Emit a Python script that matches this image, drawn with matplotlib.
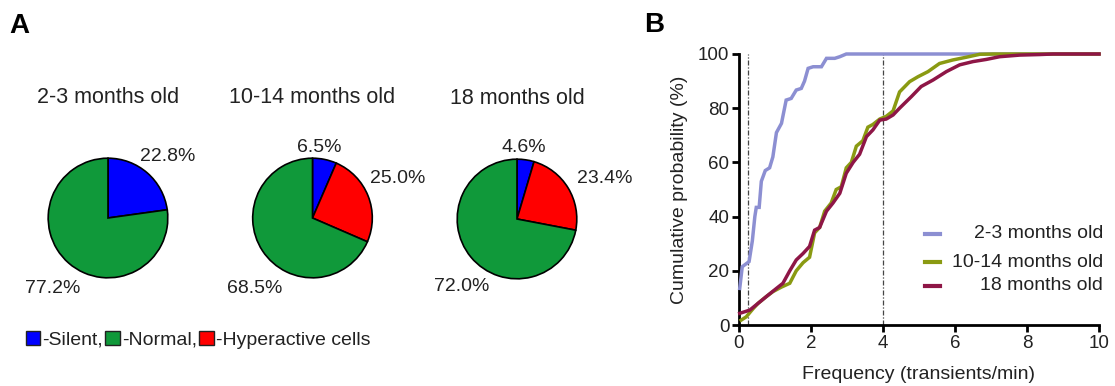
import matplotlib
matplotlib.use("Agg")
import matplotlib.pyplot as plt
from matplotlib.lines import Line2D
from matplotlib.patches import Patch

plt.rcParams["font.family"] = ["Liberation Sans", "DejaVu Sans"]

# ---- Panel A: fraction of cell types per age group ----
age_groups = ["2-3 months old", "10-14 months old", "18 months old"]
cell_types = ["Silent", "Hyperactive", "Normal"]
silent_pct = [22.8, 6.5, 4.6]
hyper_pct = [0.0, 25.0, 23.4]
normal_pct = [77.2, 68.5, 72.0]
pie_colors = {"Silent": "#0000FF", "Normal": "#10993A", "Hyperactive": "#FF0000"}

# ---- Panel B: cumulative distributions of transient frequency ----
freq_young = [0.02, 0.09, 0.28, 0.37, 0.44, 0.48, 0.56, 0.62, 0.73, 0.85, 0.94,
              1.04, 1.18, 1.31, 1.45, 1.59, 1.73, 1.82, 1.92, 2.06, 2.29, 2.43,
              2.66, 2.80, 2.98, 10.0]
cum_young = [13.5, 21.5, 23.4, 31, 40, 43.4, 43.4, 53, 57, 58, 62,
             71, 74.4, 83, 83.6, 86.7, 87.3, 90, 94.7, 95.3, 95.3, 98.4,
             98.4, 99, 100, 100]

freq_mid = [0.06, 0.20, 0.39, 0.53, 0.76, 0.94, 1.18, 1.41, 1.59, 1.78, 1.96,
            2.10, 2.24, 2.38, 2.56, 2.70, 2.84, 2.98, 3.12, 3.26, 3.44, 3.58,
            3.72, 3.91, 4.09, 4.28, 4.46, 4.74, 4.97, 5.25, 5.57, 5.94, 6.31,
            6.69, 7.06, 10.0]
cum_mid = [1.8, 3, 6, 8, 10.5, 12.3, 14, 15.4, 20, 23, 25,
           34, 36, 42, 45, 50, 51, 58, 60, 66, 68, 73,
           74, 76, 77, 79, 86, 89.8, 91.6, 93.5, 96.5, 97.8, 98.8,
           99.9, 100, 100]

freq_old = [0.02, 0.30, 0.53, 0.76, 1.04, 1.22, 1.41, 1.59, 1.78, 1.96, 2.10,
            2.24, 2.43, 2.61, 2.80, 2.98, 3.17, 3.35, 3.54, 3.72, 3.91, 4.09,
            4.28, 4.46, 4.79, 5.06, 5.39, 5.76, 6.13, 6.50, 6.87, 7.24, 7.80,
            8.35, 8.72, 10.0]
cum_old = [4.3, 5.5, 8, 10.5, 13.5, 15.4, 20, 24, 26.4, 29, 35,
           36, 42, 45, 48.6, 56, 60, 63, 69.5, 72, 75.6, 76,
           77.5, 80, 84.3, 88, 90.4, 93.5, 96, 97.2, 98, 99, 99.6,
           99.8, 100, 100]

series_labels = ["2-3 months old", "10-14 months old", "18 months old"]
series_colors = ["#8C8FD2", "#8A9A12", "#8E1646"]
thresholds = [0.25, 4.0]

W, H = 1115, 386
fig = plt.figure(figsize=(W / 100, H / 100), dpi=100)


def fig_box(cx, cy, r):
    """Axes rectangle (figure fraction) for a circle centred at pixel (cx, cy)."""
    return [(cx - r) / W, (H - cy - r) / H, 2 * r / W, 2 * r / H]


pie_centres = [(108, 218), (312.5, 218), (517, 219)]
pie_radius = 61
label_offsets = [
    {"Silent": (1.00, 1.03), "Normal": (-0.93, -1.18)},
    {"Silent": (0.12, 1.18), "Hyperactive": (1.43, 0.66), "Normal": (-0.96, -1.18)},
    {"Silent": (0.12, 1.19), "Hyperactive": (1.47, 0.67), "Normal": (-0.93, -1.13)},
]

for i, group in enumerate(age_groups):
    cx, cy = pie_centres[i]
    ax = fig.add_axes(fig_box(cx, cy, pie_radius))
    vals = {"Silent": silent_pct[i], "Hyperactive": hyper_pct[i], "Normal": normal_pct[i]}
    names = [n for n in cell_types if vals[n] > 0]
    ax.pie([vals[n] for n in names], colors=[pie_colors[n] for n in names],
           startangle=90, counterclock=False, radius=1.0,
           wedgeprops=dict(edgecolor="black", linewidth=1.2))
    ax.set_xlim(-1.02, 1.02)
    ax.set_ylim(-1.02, 1.02)
    ax.set_aspect("equal")
    ax.axis("off")
    for n in names:
        dx, dy = label_offsets[i][n]
        ax.text(dx, dy, f"{vals[n]:.1f}%", ha="center", va="center",
                fontsize=14, color="#222222", clip_on=False)
    ax.text(0.0, 2.02, group, ha="center", va="center", fontsize=15.5,
            color="#222222", clip_on=False)

# colour key for the pies
key_handles = [Patch(facecolor=pie_colors[n], edgecolor="#222222", linewidth=1.0)
               for n in ["Silent", "Normal", "Hyperactive"]]
fig.legend(key_handles, ["-Silent,", "-Normal,", "-Hyperactive cells"],
           loc="center left", bbox_to_anchor=(18 / W, 1 - 340 / H), ncol=3,
           frameon=False, fontsize=14, handlelength=0.75, handleheight=0.75,
           handletextpad=0.1, columnspacing=0.12, borderaxespad=0,
           labelcolor="#222222")

fig.text(9 / W, 1 - 26 / H, "A", fontsize=20, fontweight="bold", va="center")
fig.text(644 / W, 1 - 25 / H, "B", fontsize=20, fontweight="bold", va="center")

# ---- Panel B axes ----
axb = fig.add_axes([739 / W, (H - 325) / H, 360 / W, 271 / H])
for xv in thresholds:
    axb.plot([xv, xv], [0, 100], color="#444444", lw=0.9, ls=(0, (4, 1.5, 1, 1.5)),
             zorder=1)
curves = [(freq_young, cum_young), (freq_mid, cum_mid), (freq_old, cum_old)]
for (xs, ys), col in zip(curves, series_colors):
    axb.plot(xs, ys, color=col, lw=2.5, solid_joinstyle="miter", zorder=3,
             clip_on=False)

axb.set_xlim(0, 10)
axb.set_ylim(0, 100)
axb.set_xticks(range(0, 11, 2))
axb.set_yticks(range(0, 101, 20))
for side in ["top", "right"]:
    axb.spines[side].set_visible(False)
for side in ["left", "bottom"]:
    axb.spines[side].set_linewidth(2)
axb.tick_params(width=2, length=5, labelsize=13.5, colors="black",
                labelcolor="#222222", pad=2)
axb.set_xlabel("Frequency (transients/min)", fontsize=14, color="#222222", labelpad=10)
axb.set_ylabel("Cumulative probability (%)", fontsize=14, color="#222222", labelpad=7)

# right-aligned key for the cumulative curves
key_rows = [0.336, 0.232, 0.144]
for lab, col, yk in zip(series_labels, series_colors, key_rows):
    axb.add_line(Line2D([0.517, 0.558], [yk, yk], transform=axb.transAxes,
                        color=col, lw=3, clip_on=False))
    axb.text(1.011, yk, lab, transform=axb.transAxes, ha="right", va="center",
             fontsize=14, color="#222222")

fig.savefig("out.png", dpi=100)
